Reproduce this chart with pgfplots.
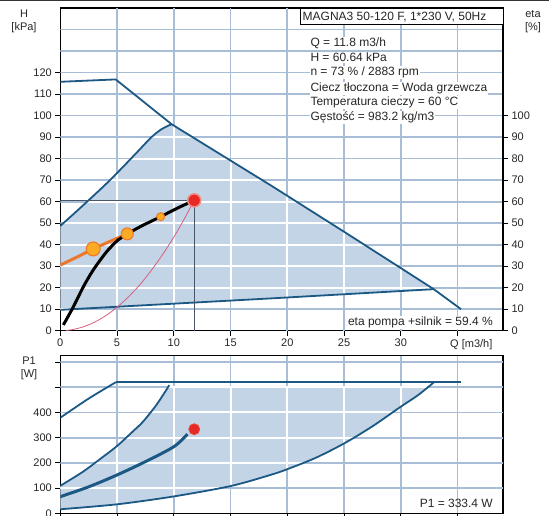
\documentclass[border=0pt]{standalone}
\usepackage{fontspec}
\setmainfont{Liberation Sans}
\usepackage{pgfplots}
\pgfplotsset{compat=1.18}
\definecolor{dblue}{RGB}{28,88,132}
\definecolor{rblue}{RGB}{194,212,230}
\definecolor{gridc}{RGB}{168,190,214}
\definecolor{orangeL}{RGB}{238,118,40}
\definecolor{orangeD}{RGB}{250,170,35}
\definecolor{redD}{RGB}{232,40,35}
\definecolor{pinkH}{RGB}{240,140,130}
\definecolor{sysred}{RGB}{215,95,125}
\definecolor{cross}{RGB}{75,85,105}
\pgfplotsset{
  base/.style={scale only axis, anchor=south west, xmin=0, xmax=39,
    axis line style={black, line width=1.1pt},
    tick style={black, line width=0.9pt}, major tick length=5pt, tick align=outside,
    ticklabel style={font=\fontsize{11}{13}\selectfont, text=black!85},
    /pgf/number format/assume math mode=true,
    xtick={0,5,...,35}, xtick pos=left, ytick pos=left}
}
\begin{document}
\begin{tikzpicture}
% ---------------- upper chart: H ----------------
\begin{axis}[base, at={(60.3pt,184.3pt)}, width=442.7pt, height=322.7pt,
  ymin=0, ymax=150, ytick={0,10,...,120},
  xticklabels={0,5,10,15,20,25,30,{}}]
% light grid
\pgfplotsinvokeforeach{5,10,15,20,25,30,35}{\addplot[color=gridc, line width=1.8pt] coordinates {(#1,0) (#1,150)};}
\pgfplotsinvokeforeach{10,20,30,40,50,60,70,80,90,100,110,120,130,140}{\addplot[color=gridc, line width=1.8pt] coordinates {(0,#1) (39,#1)};}
% operating region
\addplot[draw=none, fill=rblue] coordinates {(0,9.7) (18.5,15) (32.9,19.3) (25,46) (18.5,67.7) (9.8,96) (8.9,93.6) (8.0,89.8) (6.5,81.5) (4.38,70) (2.2,59.2) (0,48.7)};
% white grid inside region
\addplot[white, line width=2pt] coordinates {(5,11.13) (5,73.36)};
\addplot[white, line width=2pt] coordinates {(10,12.57) (10,95.35)};
\addplot[white, line width=2pt] coordinates {(15,14.0) (15,79.09)};
\addplot[white, line width=2pt] coordinates {(20,15.45) (20,62.69)};
\addplot[white, line width=2pt] coordinates {(25,16.94) (25,46)};
\addplot[white, line width=2pt] coordinates {(30,18.43) (30,29.1)};
\addplot[white, line width=2pt] coordinates {(0,10) (1.05,10)};
\addplot[white, line width=2pt] coordinates {(0,20) (32.69,20)};
\addplot[white, line width=2pt] coordinates {(0,30) (29.73,30)};
\addplot[white, line width=2pt] coordinates {(0,40) (26.78,40)};
\addplot[white, line width=2pt] coordinates {(0.27,50) (23.8,50)};
\addplot[white, line width=2pt] coordinates {(2.36,60) (20.81,60)};
\addplot[white, line width=2pt] coordinates {(4.38,70) (17.79,70)};
\addplot[white, line width=2pt] coordinates {(6.22,80) (14.72,80)};
\addplot[white, line width=2pt] coordinates {(8.05,90) (11.64,90)};
% max curve
\addplot[dblue, line width=1.8pt] coordinates {(0,115.7) (4.88,116.8) (9.8,96) (18.5,67.7) (25,46) (32.9,19.3) (35.3,10)};
% min curve (left)
\addplot[dblue, line width=1.8pt, smooth] coordinates {(0,48.7) (2.2,59.2) (4.38,70) (6.5,81.5) (8.0,89.8) (8.9,93.6) (9.8,96)};
% bottom line
\addplot[dblue, line width=1.8pt] coordinates {(0,9.7) (18.5,15) (32.9,19.3)};
% duty point crosshair
\addplot[cross, line width=0.8pt] coordinates {(0,60.6) (11.8,60.6)};
\addplot[cross, line width=0.8pt] coordinates {(11.8,0) (11.8,60.6)};
% system curve
\addplot[sysred, line width=0.8pt, smooth] coordinates {(0.5,0.1) (1,0.44) (2,1.74) (3,3.92) (4,6.97) (5,10.9) (6,15.7) (7,21.3) (8,27.9) (9,35.3) (10,43.5) (11,52.7) (11.8,60.6)};
% orange line
\addplot[orangeL, line width=3pt, smooth] coordinates {(0,30.5) (1.5,34.3) (2.9,38) (4.5,41.8) (5.9,45)};
% black pump curve
\addplot[black, line width=3pt, smooth] coordinates {(0.27,2.7) (1.15,11.1) (2.03,20.4) (2.9,28.2) (4.08,36.7) (5.1,42.2) (5.9,44.9) (7.02,48.3) (8.84,53) (10.25,56.8) (11.8,60.6)};
\addplot[only marks, mark=*, mark size=7pt, mark options={fill=orangeD, draw=orangeL, line width=1pt}] coordinates {(2.9,38)};
\addplot[only marks, mark=*, mark size=6pt, mark options={fill=orangeD, draw=orangeL, line width=1pt}] coordinates {(5.9,45)};
\addplot[only marks, mark=*, mark size=4pt, mark options={fill=orangeD, draw=orangeL, line width=1pt}] coordinates {(8.84,53)};
\addplot[only marks, mark=*, mark size=6.5pt, mark options={fill=redD, draw=pinkH, line width=1.5pt}] coordinates {(11.8,60.6)};
\end{axis}
% right eta axis
\begin{axis}[scale only axis, anchor=south west, at={(60.3pt,184.3pt)}, width=442.7pt, height=322.7pt,
  xmin=0, xmax=39, ymin=0, ymax=150, axis x line=none, axis y line*=right,
  ytick={0,10,...,100}, tick align=outside, major tick length=5pt,
  axis line style={black, line width=1.1pt}, tick style={black, line width=0.9pt},
  ticklabel style={font=\fontsize{11}{13}\selectfont, text=black!85},
  /pgf/number format/assume math mode=true]
\end{axis}
% ---------------- lower chart: P1 ----------------
\begin{axis}[base, at={(60.3pt,1.7pt)}, width=442.7pt, height=157.6pt,
  ymin=0, ymax=625, ytick={0,100,...,600}, yticklabels={0,100,200,300,400,{},{}},
  xticklabels={}]
\pgfplotsinvokeforeach{5,10,15,20,25,30,35}{\addplot[color=gridc, line width=1.8pt] coordinates {(#1,0) (#1,625)};}
\pgfplotsinvokeforeach{100,200,300,400,500,600}{\addplot[color=gridc, line width=1.8pt] coordinates {(0,#1) (39,#1)};}
\addplot[draw=none, fill=rblue] coordinates {(0,16) (5,35.7) (10,67) (15,108) (18.5,152) (20,175) (22.5,220) (25,277) (27.5,345) (30,423) (31.5,468) (32.45,505) (9.56,505) (8.5,432) (7.3,364) (6.4,325) (5,267) (3.5,215) (2,165) (0,109)};
\addplot[white, line width=2pt] coordinates {(5,35.7) (5,267)};
\addplot[white, line width=2pt] coordinates {(10,67) (10,505)};
\addplot[white, line width=2pt] coordinates {(15,108) (15,505)};
\addplot[white, line width=2pt] coordinates {(20,175) (20,505)};
\addplot[white, line width=2pt] coordinates {(25,277) (25,505)};
\addplot[white, line width=2pt] coordinates {(30,423) (30,505)};
\addplot[white, line width=2pt] coordinates {(0,100) (14.02,100)};
\addplot[white, line width=2pt] coordinates {(3.05,200) (21.39,200)};
\addplot[white, line width=2pt] coordinates {(5.8,300) (25.85,300)};
\addplot[white, line width=2pt] coordinates {(7.94,400) (29.26,400)};
\addplot[white, line width=2pt] coordinates {(9.48,500) (32.32,500)};
\addplot[dblue, line width=1.8pt, smooth] coordinates {(0,379) (2.5,455) (4.9,520)};
\addplot[dblue, line width=1.8pt] coordinates {(4.9,520) (35.3,520)};
\addplot[dblue, line width=1.8pt, smooth] coordinates {(0,109) (2,165) (3.5,215) (5,267) (6.4,325) (7.3,364) (8.5,432) (9.6,508)};
\addplot[dblue, line width=1.8pt, smooth] coordinates {(0,16) (5,35.7) (10,67) (15,108) (18.5,152) (20,175) (22.5,220) (25,277) (27.5,345) (30,423) (31.5,468) (32.9,519)};
\addplot[dblue, line width=3pt, smooth] coordinates {(0,66) (2.5,105) (5,152) (7.5,205) (10,264) (11.2,314)};
\addplot[only marks, mark=*, mark size=5.5pt, mark options={fill=redD, draw=redD!85!white, line width=0.8pt}] coordinates {(11.8,333.4)};
\end{axis}
% ---------------- texts ----------------
\draw[black!80, line width=1.5pt] (0,514.25pt) -- (549pt,514.25pt);
\node[align=center, font=\fontsize{11}{13}\selectfont, text=black!85] at (24pt,493.5pt) {H\\{[kPa]}};
\node[align=center, font=\fontsize{11}{13}\selectfont, text=black!85] at (533pt,493pt) {eta\\{[\%]}};
\node[align=center, font=\fontsize{11}{13}\selectfont, text=black!85] at (29pt,147pt) {P1\\{[W]}};
\node[anchor=base west, inner sep=0pt, font=\fontsize{11}{13}\selectfont, text=black!85] at (450pt,168pt) {Q [m3/h]};
\draw[black, line width=0.9pt, fill=white] (300.5pt,507pt) rectangle (503pt,490.5pt);
\node[anchor=base west, inner sep=0pt, font=\fontsize{12}{14}\selectfont, text=black!85] at (302.5pt,494pt) {MAGNA3 50-120 F, 1*230 V, 50Hz};
\begin{scope}[every node/.style={anchor=base west, inner sep=1pt, fill=white, font=\fontsize{12}{14}\selectfont, text=black!85}]
\node at (309.3pt,468.1pt) {Q = 11.8 m3/h};
\node at (309.3pt,453.5pt) {H = 60.64 kPa};
\node at (309.3pt,439.1pt) {n = 73 \% / 2883 rpm};
\node at (309.3pt,423.5pt) {Ciecz tłoczona = Woda grzewcza};
\node at (309.3pt,409.1pt) {Temperatura cieczy = 60 °C};
\node at (309.3pt,394.1pt) {Gęstość = 983.2 kg/m3};
\end{scope}
\node[anchor=base east, inner sep=1pt, fill=white, font=\fontsize{12}{14}\selectfont, text=black!85] at (494pt,189.8pt) {eta pompa +silnik = 59.4 \%};
\node[anchor=base east, inner sep=1pt, font=\fontsize{12}{14}\selectfont, text=black!85] at (494pt,7.8pt) {P1 = 333.4 W};
\pgfresetboundingbox
\useasboundingbox (0,0) rectangle (549pt,515pt);
\end{tikzpicture}
\end{document}
